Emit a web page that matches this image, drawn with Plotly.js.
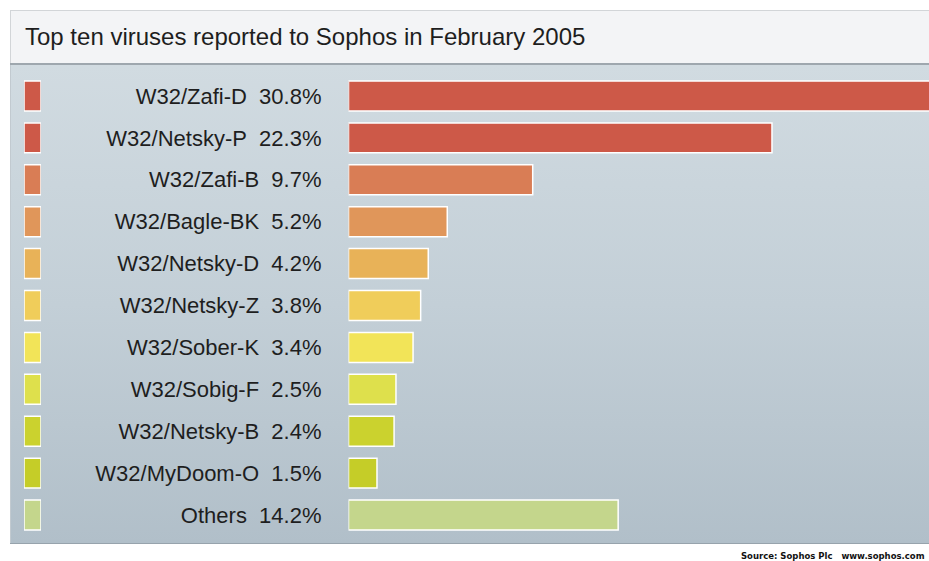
<!DOCTYPE html>
<html>
<head>
<meta charset="utf-8">
<script src="https://cdn.plot.ly/plotly-3.0.1.min.js"></script>
<style>
  html, body { margin: 0; padding: 0; background: #ffffff; }
  #wrap { position: relative; width: 929px; height: 561px; overflow: hidden; background: #ffffff; }
  #titlebox { position: absolute; left: 10px; top: 10px; width: 919px; height: 53px;
    background: #f3f4f6; border-top: 1px solid #d2d5d8; border-left: 1px solid #d2d5d8; box-sizing: border-box; }
  #divider { position: absolute; left: 10px; top: 63px; width: 919px; height: 2px; background: #9ea7ae; }
  #panel { position: absolute; left: 10px; top: 65px; width: 919px; height: 478px;
    background: linear-gradient(to bottom, #d1dbe1 0%, #c3cfd7 50%, #b1bfc9 100%);
    border-left: 1px solid #c2cad0; box-sizing: border-box; }
  #bottomline { position: absolute; left: 10px; top: 543px; width: 919px; height: 1px; background: #97a3ac; }
  #chart { position: absolute; left: 0; top: 0; width: 929px; height: 561px; }
</style>
</head>
<body>
<div id="wrap">
  <div id="titlebox"></div>
  <div id="divider"></div>
  <div id="panel"></div>
  <div id="bottomline"></div>
  <div id="chart"></div>
</div>
<script>
const viruses = ["W32/Zafi-D", "W32/Netsky-P", "W32/Zafi-B", "W32/Bagle-BK", "W32/Netsky-D",
                 "W32/Netsky-Z", "W32/Sober-K", "W32/Sobig-F", "W32/Netsky-B", "W32/MyDoom-O", "Others"];
const percentages = [30.8, 22.3, 9.7, 5.2, 4.2, 3.8, 3.4, 2.5, 2.4, 1.5, 14.2];
const barColors = ["#cd5948", "#cd5948", "#d97d55", "#e0965a", "#e8b258", "#f0cd5a",
                   "#f2e458", "#dee04c", "#cbd22e", "#c5cd28", "#c4d68c"];
const swatchValues = [1, 1, 1, 1, 1, 1, 1, 1, 1, 1, 1];
const tickLabels = viruses.map((v, i) => v + "\u00a0\u00a0" + percentages[i].toFixed(1) + "%");

const W = 929, H = 561;
const pxPerPct = 18.99;
const x0 = 348.5;

const bars = {
  type: "bar", orientation: "h",
  x: percentages, y: viruses,
  xaxis: "x", yaxis: "y",
  marker: { color: barColors, line: { color: "#ffffff", width: 1.5 } },
  hoverinfo: "skip"
};
const swatches = {
  type: "bar", orientation: "h",
  x: swatchValues, y: viruses,
  xaxis: "x2", yaxis: "y",
  marker: { color: barColors, line: { color: "#ffffff", width: 1.5 } },
  hoverinfo: "skip"
};

const layout = {
  width: W, height: H,
  margin: { l: 0, r: 0, t: 74.7, b: 25, pad: 0 },
  paper_bgcolor: "rgba(0,0,0,0)",
  plot_bgcolor: "rgba(0,0,0,0)",
  showlegend: false,
  bargap: 0.285,
  title: {
    text: "Top ten viruses reported to Sophos in February 2005",
    x: 25 / W, xanchor: "left", xref: "paper",
    y: 1 - 37 / H, yanchor: "middle", yref: "container",
    font: { family: "Liberation Sans, Arial, sans-serif", size: 24, color: "#1e1e1e" }
  },
  xaxis: {
    domain: [x0 / W, 1], range: [0, (W - x0) / pxPerPct],
    showgrid: false, zeroline: false, showline: false, showticklabels: false, ticks: "", fixedrange: true
  },
  xaxis2: {
    domain: [24 / W, 41 / W], range: [0, 1], anchor: "y",
    showgrid: false, zeroline: false, showline: false, showticklabels: false, ticks: "", fixedrange: true
  },
  yaxis: {
    type: "category", autorange: "reversed",
    tickvals: viruses, ticktext: tickLabels,
    ticks: "", ticklabelstandoff: 26,
    showgrid: false, zeroline: false, showline: false, fixedrange: true,
    tickfont: { family: "Liberation Sans, Arial, sans-serif", size: 22, color: "#1e1e1e" }
  },
  annotations: [{
    text: "<b>Source: Sophos Plc&nbsp;&nbsp;&nbsp;www.sophos.com</b>",
    xref: "paper", yref: "paper", x: 927 / W, y: -(556 - (H - 25)) / (H - 74.7 - 25),
    xanchor: "right", yanchor: "middle", showarrow: false,
    font: { family: "DejaVu Sans, sans-serif", size: 8.5, color: "#111111" }
  }]
};

Plotly.newPlot("chart", [bars, swatches], layout, { staticPlot: true, displayModeBar: false });
</script>
</body>
</html>
